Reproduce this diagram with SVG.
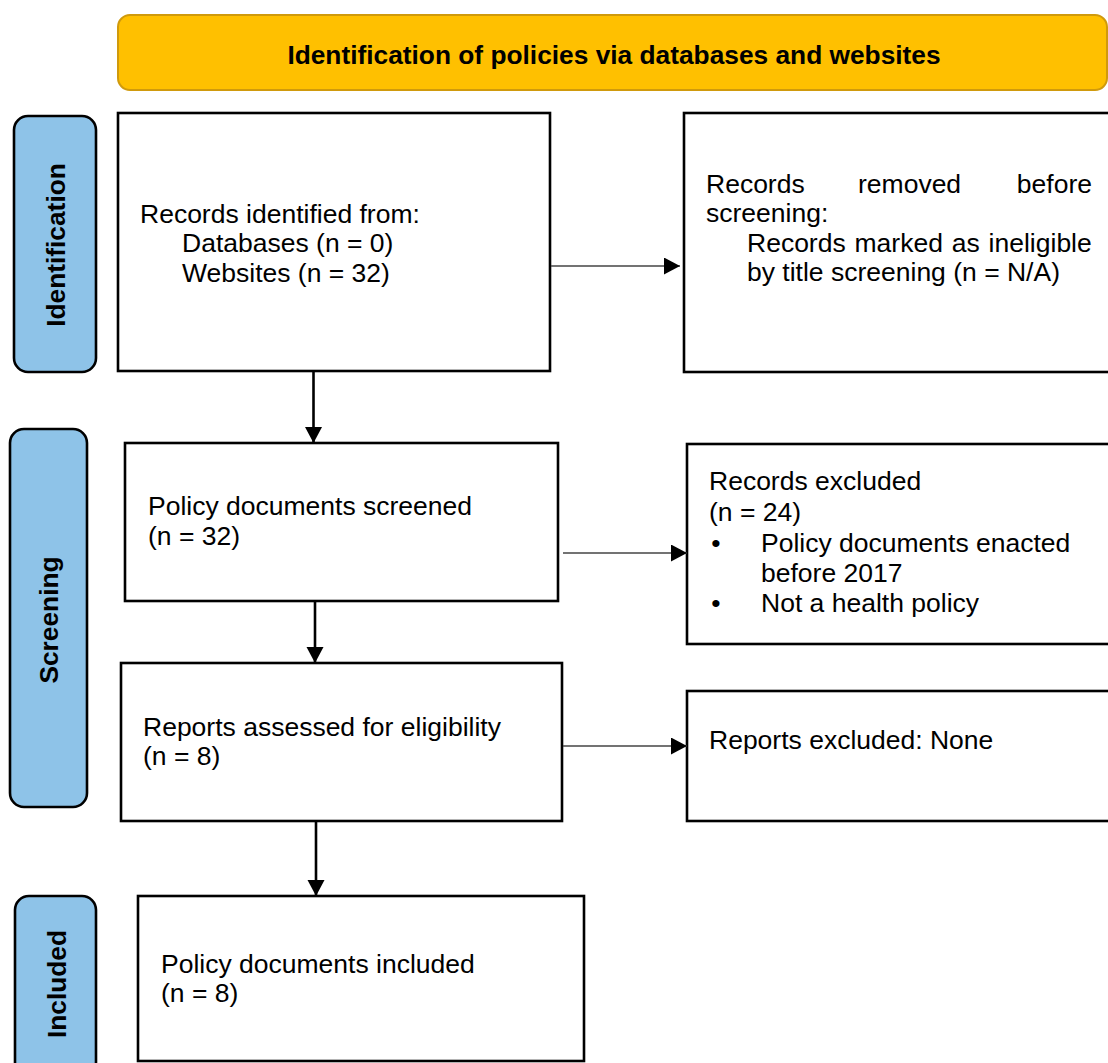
<svg xmlns="http://www.w3.org/2000/svg" width="1108" height="1063" viewBox="0 0 1108 1063">
<defs>
<style>
.box{fill:#fff;stroke:#000;stroke-width:2.6}
.side{fill:#8EC3E8;stroke:#000;stroke-width:2.6}
.hdr{fill:#FFC000;stroke:#D09A0C;stroke-width:2}
.t{font-family:"Liberation Sans",Arial,sans-serif;font-size:26.5px;fill:#000}
.b{font-family:"Liberation Sans",Arial,sans-serif;font-size:26.3px;font-weight:bold;fill:#000}
.thick{stroke:#000;stroke-width:2.6;fill:none}
.thin{stroke:#444;stroke-width:1.3;fill:none}
</style>
<marker id="ah" markerUnits="userSpaceOnUse" markerWidth="18" markerHeight="18" refX="16" refY="8.5" orient="auto">
<path d="M0,0 L16,8.5 L0,17 z" fill="#000"/>
</marker>
</defs>
<rect width="1108" height="1063" fill="#fff"/>

<g id="header">
<rect class="hdr" x="118" y="15" width="989" height="75" rx="12"/>
<text class="b" x="614" y="64" text-anchor="middle">Identification of policies via databases and websites</text>
</g>

<g id="label-identification">
<rect class="side" x="14" y="116" width="82" height="256" rx="14"/>
<text class="b" transform="translate(65,245) rotate(-90)" text-anchor="middle">Identification</text>
</g>
<g id="label-screening">
<rect class="side" x="10" y="429" width="77" height="378" rx="14"/>
<text class="b" transform="translate(58,620) rotate(-90)" text-anchor="middle">Screening</text>
</g>
<g id="label-included">
<rect class="side" x="15" y="896" width="81" height="180" rx="14"/>
<text class="b" transform="translate(66,984) rotate(-90)" text-anchor="middle">Included</text>
</g>

<g id="records-identified">
<rect class="box" x="118" y="113" width="432" height="258"/>
<text class="t" x="140" y="223">Records identified from:</text>
<text class="t" x="182" y="252">Databases (n = 0)</text>
<text class="t" x="182" y="282">Websites (n = 32)</text>
</g>

<g id="records-removed">
<rect class="box" x="684" y="113" width="430" height="259"/>
<text class="t" x="706" y="193">Records</text>
<text class="t" x="858" y="193">removed</text>
<text class="t" x="1092" y="193" text-anchor="end">before</text>
<text class="t" x="706" y="222">screening:</text>
<text class="t" x="747" y="252" word-spacing="1.5">Records marked as ineligible</text>
<text class="t" x="747" y="281">by title screening (n = N/A)</text>
</g>

<g id="policy-screened">
<rect class="box" x="125" y="443" width="433" height="158"/>
<text class="t" x="148" y="515">Policy documents screened</text>
<text class="t" x="148" y="545">(n = 32)</text>
</g>

<g id="records-excluded">
<rect class="box" x="687" y="444" width="430" height="200"/>
<text class="t" x="709" y="490">Records excluded</text>
<text class="t" x="709" y="521">(n = 24)</text>
<text class="t" x="716" y="552" text-anchor="middle">•</text>
<text class="t" x="761" y="552">Policy documents enacted</text>
<text class="t" x="761" y="582">before 2017</text>
<text class="t" x="716" y="612" text-anchor="middle">•</text>
<text class="t" x="761" y="612">Not a health policy</text>
</g>

<g id="reports-assessed">
<rect class="box" x="121" y="663" width="441" height="158"/>
<text class="t" x="143" y="736">Reports assessed for eligibility</text>
<text class="t" x="143" y="765">(n = 8)</text>
</g>

<g id="reports-excluded">
<rect class="box" x="687" y="691" width="430" height="130"/>
<text class="t" x="709" y="749">Reports excluded: None</text>
</g>

<g id="policy-included">
<rect class="box" x="138" y="896" width="446" height="165"/>
<text class="t" x="161" y="973">Policy documents included</text>
<text class="t" x="161" y="1002">(n = 8)</text>
</g>

<g id="connectors">
<line class="thin" x1="551" y1="266" x2="680" y2="266" marker-end="url(#ah)"/>
<line class="thick" x1="313.5" y1="372" x2="313.5" y2="443" marker-end="url(#ah)"/>
<line class="thin" x1="563" y1="553" x2="687" y2="553" marker-end="url(#ah)"/>
<line class="thick" x1="315" y1="601" x2="315" y2="663" marker-end="url(#ah)"/>
<line class="thin" x1="563" y1="746" x2="687" y2="746" marker-end="url(#ah)"/>
<line class="thick" x1="316" y1="821" x2="316" y2="896" marker-end="url(#ah)"/>
</g>
</svg>
